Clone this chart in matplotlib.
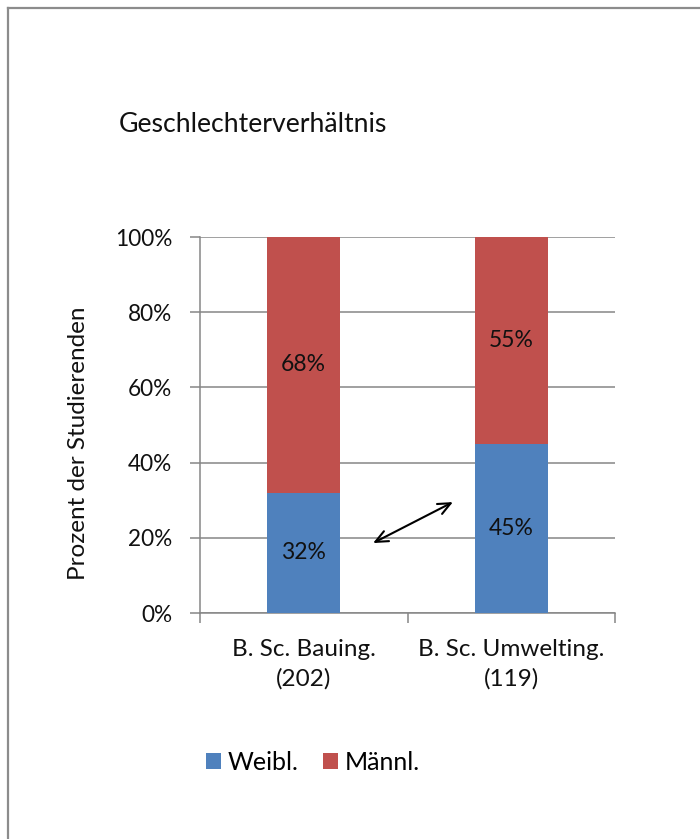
import matplotlib
matplotlib.use("Agg")
import matplotlib.pyplot as plt
from matplotlib.lines import Line2D
from matplotlib.patches import Patch
import numpy as np

plt.rcParams['font.family'] = ['Lato', 'DejaVu Sans']

# Data
categories = ["B. Sc. Bauing.\n(202)", "B. Sc. Umwelting.\n(119)"]
weibl = [32, 45]
maennl = [68, 55]
series_names = ["Weibl.", "Männl."]
yticks = [0, 20, 40, 60, 80, 100]
ytick_labels = ["0%", "20%", "40%", "60%", "80%", "100%"]

blue = "#4F81BD"
red = "#C0504D"
grid_col = "#868686"
text_col = "#111111"

W, H = 700, 839
fig = plt.figure(figsize=(W / 100, H / 100), dpi=100)
fig.patch.set_facecolor("white")

# Axes placed in pixel terms
left, right, top, bottom = 200, 615, 237, 613
ax = fig.add_axes([left / W, 1 - bottom / H, (right - left) / W, (bottom - top) / H])

x = np.arange(len(categories))
bw = 0.352
ax.bar(x, weibl, bw, color=blue, zorder=3, label=series_names[0])
ax.bar(x, maennl, bw, bottom=weibl, color=red, zorder=3, label=series_names[1])

for i in range(len(categories)):
    ax.text(x[i], weibl[i] / 2, f"{weibl[i]}%", ha="center", va="center",
            fontsize=16.5, color=text_col, zorder=4)
    ax.text(x[i], weibl[i] + maennl[i] / 2, f"{maennl[i]}%", ha="center", va="center",
            fontsize=16.5, color=text_col, zorder=4)

ax.set_xlim(-0.5, len(categories) - 0.5)
ax.set_ylim(0, 100)
ax.set_yticks(yticks)
ax.set_yticklabels(ytick_labels)
ax.yaxis.grid(True, color=grid_col, linewidth=1.1, zorder=0)
ax.set_axisbelow(True)

# Category labels at centres, tick marks at category boundaries
ax.set_xticks(x)
ax.set_xticklabels(categories, linespacing=1.45)
ax.set_xticks(np.arange(-0.5, len(categories), 1.0), minor=True)
ax.tick_params(axis="x", which="major", length=0, pad=19, labelsize=17.5, labelcolor=text_col)
ax.tick_params(axis="x", which="minor", length=7, width=1.1, color=grid_col)
ax.tick_params(axis="y", length=7, width=1.1, color=grid_col, pad=13,
               labelsize=16.3, labelcolor=text_col)

for s in ["top", "right"]:
    ax.spines[s].set_visible(False)
for s in ["left", "bottom"]:
    ax.spines[s].set_color(grid_col)
    ax.spines[s].set_linewidth(1.1)

# Axis title
fig.text(79 / W, 1 - 443 / H, "Prozent der Studierenden", fontsize=17.5, color=text_col,
         rotation=90, ha="center", va="center")

# Double-headed arrow between the two female shares
ax.annotate("", xy=(0.719, 29.5), xytext=(0.334, 18.6),
            arrowprops=dict(arrowstyle="<->,head_length=0.9,head_width=0.4",
                            color="black", lw=1.5, shrinkA=0, shrinkB=0),
            zorder=5)

# Title
fig.text(119 / W, 1 - 125 / H, "Geschlechterverhältnis", fontsize=19.2,
         ha="left", va="center", color=text_col)

# Legend
handles = [Patch(facecolor=blue, edgecolor="none"), Patch(facecolor=red, edgecolor="none")]
fig.legend(handles, series_names, loc="center", bbox_to_anchor=(313 / W, 1 - 762 / H),
           ncol=2, frameon=False, fontsize=18, handlelength=0.6, handleheight=0.6,
           handletextpad=0.25, columnspacing=1.0)

# Chart frame
frame_col = "#8c8c8c"
fig.add_artist(Line2D([7.5 / W, 1.0], [1 - 7.5 / H, 1 - 7.5 / H], color=frame_col,
                      linewidth=1.6, transform=fig.transFigure))
fig.add_artist(Line2D([7.5 / W, 7.5 / W], [1 - 7.5 / H, 0.0], color=frame_col,
                      linewidth=1.6, transform=fig.transFigure))

fig.savefig("out.png", dpi=100)
